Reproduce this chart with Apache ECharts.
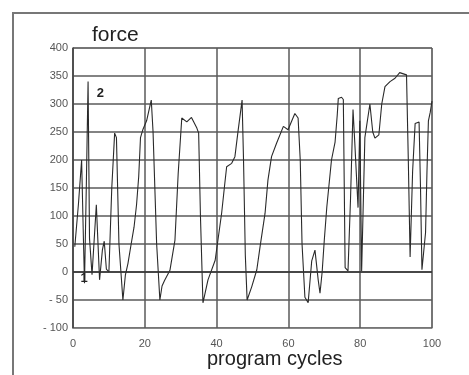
<!DOCTYPE html>
<html>
<head>
<meta charset="utf-8">
<script src="https://cdn.jsdelivr.net/npm/echarts@6/dist/echarts.min.js"></script>
<style>
html,body{margin:0;padding:0;background:#fff;}
#c{width:469px;height:375px;}
</style>
</head>
<body>
<div id="c"></div>
<script>
// program cycles (x) and force (y)
const cycles = [0.5,1.5,2.4,2.9,3.2,3.7,4.2,4.6,5.3,6.5,7.4,8.2,8.7,9.3,10.0,10.8,11.6,12.1,12.8,13.9,14.6,15.3,16.2,17.0,17.7,18.3,18.8,19.5,20.5,21.2,21.8,22.3,23.3,24.2,24.8,25.5,27.0,28.4,29.3,30.3,31.7,33.0,34.5,35.0,35.5,36.2,37.6,39.6,41.4,42.3,42.8,44.2,45.1,46.0,47.1,47.5,48.0,48.5,49.8,51.2,52.1,53.5,54.3,55.3,56.7,58.6,59.9,61.8,62.7,63.3,63.8,64.6,65.5,66.5,67.4,68.3,68.8,69.4,70.0,70.7,72.0,73.0,73.6,73.9,74.8,75.3,75.8,76.6,77.3,78.0,78.5,79.4,79.9,80.4,81.3,82.7,83.5,84.1,85.2,86.0,86.9,88.3,89.7,91.0,92.9,93.4,93.9,94.6,95.3,96.4,96.8,97.2,98.2,98.6,99.0,99.5,100.0];
const force = [45,120,200,60,-20,150,340,60,-5,120,-14,40,55,5,0,150,248,240,50,-50,-5,15,50,80,120,170,240,255,270,290,307,250,50,-50,-25,-15,3,57,176,275,268,276,257,248,100,-55,-14,21,105,159,188,194,206,253,307,200,30,-50,-26,4,45,105,164,206,230,260,254,283,275,200,50,-45,-55,20,39,-14,-38,0,57,116,200,232,280,310,312,308,8,2,130,290,230,115,270,2,240,300,250,239,245,300,331,340,346,356,352,200,27,180,265,268,150,4,70,180,270,285,305];
// annotation labels on the curve
const noteText = ['2','1'];
const noteX = [7.6, 3.1];
const noteY = [318, -12];
// axis ticks
const xMin = 0, xMax = 100, xStep = 20;
const yMin = -100, yMax = 400, yStep = 50;
const xTitle = 'program cycles';
const yTitle = 'force';

const seriesData = cycles.map((c,i)=>[c, force[i]]);
const notes = noteText.map((t,i)=>({name:t, coord:[noteX[i], noteY[i]], value:t}));

const chart = echarts.init(document.getElementById('c'), null, {renderer:'canvas'});
const font = 'Liberation Sans, Arial, sans-serif';
chart.setOption({
  animation:false,
  backgroundColor:'#fff',
  grid:{left:73, right:37, top:48, bottom:47, show:true, borderColor:'#999', borderWidth:1},
  xAxis:{
    type:'value', min:xMin, max:xMax, interval:xStep,
    axisLine:{show:true, onZero:false, lineStyle:{color:'#888', width:1}},
    axisTick:{show:false},
    axisLabel:{color:'#555', fontSize:11, fontFamily:font, margin:10},
    splitLine:{show:true, lineStyle:{color:'#5a5a5a', width:1.5}}
  },
  yAxis:{
    type:'value', min:yMin, max:yMax, interval:yStep,
    axisLine:{show:true, lineStyle:{color:'#444', width:1.5}},
    axisTick:{show:false},
    axisLabel:{color:'#555', fontSize:11, fontFamily:font, margin:5,
      formatter:v=> v<0 ? '- ' + (-v) : String(v)},
    splitLine:{show:true, lineStyle:{color:'#5a5a5a', width:1.5}}
  },
  series:[{
    type:'line', data:seriesData, showSymbol:false, symbol:'none',
    lineStyle:{color:'#2a2a2a', width:1.1},
    markPoint:{
      symbol:'circle', symbolSize:0,
      data:notes,
      label:{show:true, formatter:p=>p.name, color:'#222', fontSize:13, fontFamily:font, fontWeight:'bold', position:'inside'}
    },
    markLine:{
      silent:true, symbol:'none', label:{show:false},
      lineStyle:{color:'#333', width:1.6, type:'solid'},
      data:[{yAxis:0}]
    }
  }],
  graphic:[
    {type:'polyline', shape:{points:[[13,400],[13,13],[480,13]]}, style:{stroke:'#777', lineWidth:2, fill:null}},
    {type:'text', left:92, top:25, style:{text:yTitle, font:'21px '+font, fill:'#222'}},
    {type:'text', left:207, top:349, style:{text:xTitle, font:'20px '+font, fill:'#222'}}
  ]
});
</script>
</body>
</html>
